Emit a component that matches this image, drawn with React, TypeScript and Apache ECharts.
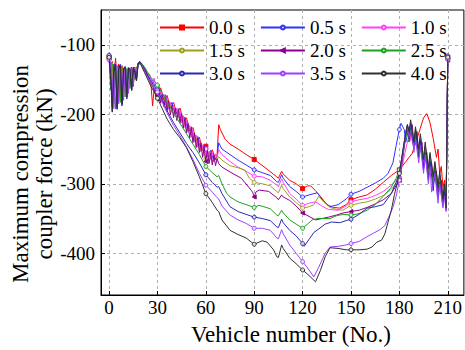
import React, { useEffect, useRef } from 'react';
import * as echarts from 'echarts';

const seriesNames = ['0.0 s', '0.5 s', '1.0 s', '1.5 s', '2.0 s', '2.5 s', '3.0 s', '3.5 s', '4.0 s'];
const seriesColors = ['#ff0000', '#3030ff', '#ff40ff', '#a0a020', '#900090', '#20a020', '#2a2ab0', '#a040ff', '#303030'];
const markerFills = ['#ff0000', '#d8d8ff', '#ffd8ff', '#f0f0c8', '#900090', '#d0f0d0', '#d0d0f0', '#ecd8ff', '#e0e0e0'];
const seriesSymbols = ['rect', 'circle', 'circle', 'circle', 'triangle', 'circle', 'circle', 'circle', 'circle'];
const xTicks = [0, 30, 60, 90, 120, 150, 180, 210];
const yTicks = [-400, -300, -200, -100];

const s00 = [[0,-118],[1,-130],[2,-124],[3,-168],[4,-119],[5,-150],[6,-128],[7,-175],[8,-130],[9,-148],[10,-133],[11,-168],[12,-135],[13,-145],[14,-132],[15,-160],[16,-134],[17,-140],[18,-127],[19,-125],
[21,-132],[23,-140],[25,-150],[26,-158],[27,-188],[28,-162],
[30,-172],[32,-162],[34,-179],[36,-173],[38,-191],[40,-183],[42,-199],[44,-191],[46,-210],[48,-205],[50,-224],[52,-219],[54,-238],[56,-233],[58,-252],[60,-246],[62,-261],[64,-251],[66,-265],[67,-258],
[68,-215],[69,-222],[72,-236],[75,-243],[80,-250],[85,-258],[90,-265],[94,-272],[98,-279],[104,-290],[105,-292],[107,-282],[108,-286],[112,-295],[116,-300],[120,-307],[123,-303],[125,-303],[128,-310],[131,-318],[135,-330],[139,-334],[143,-335],[147,-330],[150,-323],[155,-319],[160,-316],[165,-308],[170,-298],[175,-288],[180,-280],[184,-268],[188,-256],[191,-235],[193,-220],[195,-205],[197,-199],[199,-212],[201,-235],[203,-262],[204,-250],[205,-285],[206,-275],[207,-305],[208,-295],[209,-330],[210,-118]];

const s05 = [[0,-116],[1,-128],[2,-182],[3,-130],[4,-125],[5,-188],[6,-132],[7,-128],[8,-178],[9,-134],[10,-131],[11,-170],[12,-136],[13,-133],[14,-160],[15,-136],[16,-132],[17,-146],[18,-126],[19,-124],
[21,-130],[23,-138],[25,-147],[27,-152],[29,-162],
[30,-165],[31,-160],[33,-180],[35,-172],[37,-192],[39,-183],[41,-201],[43,-192],[45,-211],[47,-204],[49,-225],[51,-218],[53,-239],[55,-232],[57,-253],[59,-245],[60,-250],[61,-264],[63,-252],[65,-268],[67,-260],
[68,-241],[70,-250],[75,-258],[80,-266],[85,-273],[90,-280],[95,-284],[100,-288],[104,-297],[105,-298],[107,-287],[108,-292],[112,-304],[116,-311],[120,-319],[124,-316],[129,-313],[133,-325],[137,-333],[142,-330],[147,-322],[150,-315],[155,-311],[160,-305],[165,-299],[170,-292],[173,-285],[176,-270],[178,-245],[180,-222],[181,-213],[183,-222],[184,-240],[186,-218],[187,-226],[189,-248],[190,-232],[192,-258],[193,-240],[195,-270],[196,-250],[198,-282],[199,-262],[201,-295],[202,-275],[204,-305],[205,-290],[207,-320],[208,-305],[209,-330],[210,-120]];

const s10 = [[0,-120],[1,-142],[2,-130],[3,-178],[4,-126],[5,-135],[6,-180],[7,-130],[8,-140],[9,-172],[10,-132],[11,-140],[12,-165],[13,-134],[14,-138],[15,-155],[16,-133],[17,-136],[18,-128],[19,-126],
[21,-133],[23,-140],[24,-150],[25,-142],[27,-155],[28,-148],[29,-162],
[30,-160],[31,-175],[32,-166],[33,-182],[34,-171],[35,-187],[36,-177],[37,-193],[38,-183],[39,-197],[40,-187],[41,-201],[42,-191],[43,-205],[44,-195],[45,-212],[46,-202],[47,-219],[48,-209],[49,-226],[50,-216],[51,-233],[52,-223],[53,-240],[54,-230],[55,-247],[56,-237],[57,-254],[58,-244],[59,-260],[60,-250],[61,-263],[62,-253],[63,-265],[64,-255],[65,-267],[66,-257],[67,-262],
[68,-251],[70,-258],[75,-268],[80,-276],[85,-282],[90,-289],[95,-290],[100,-295],[104,-302],[105,-304],[107,-293],[108,-298],[112,-314],[116,-322],[120,-331],[124,-328],[128,-326],[132,-332],[136,-337],[142,-338],[147,-332],[150,-326],[155,-323],[160,-321],[165,-317],[170,-311],[175,-302],[180,-290],[182,-272],[184,-250],[186,-230],[187,-238],[188,-222],[189,-240],[190,-228],[192,-252],[193,-232],[195,-262],[196,-245],[198,-275],[199,-258],[201,-290],[202,-270],[204,-300],[205,-285],[207,-315],[208,-300],[209,-325],[210,-117]];

const s15 = [[0,-117],[1,-150],[2,-126],[3,-185],[4,-128],[5,-140],[6,-182],[7,-132],[8,-135],[9,-175],[10,-134],[11,-137],[12,-168],[13,-135],[14,-140],[15,-152],[16,-135],[17,-134],[18,-128],[19,-125],
[21,-133],[23,-142],[25,-152],[27,-160],[29,-166],
[30,-168],[32,-180],[34,-175],[36,-191],[38,-187],[40,-201],[42,-195],[44,-209],[46,-206],[48,-223],[50,-220],[52,-237],[54,-234],[56,-251],[58,-248],[60,-264],[62,-257],[64,-268],[66,-261],[67,-266],
[68,-261],[70,-266],[75,-274],[80,-277],[84,-280],[87,-292],[90,-298],[95,-300],[100,-303],[104,-311],[105,-313],[107,-302],[108,-307],[112,-319],[116,-327],[120,-335],[124,-333],[127,-330],[130,-318],[133,-326],[137,-334],[141,-337],[145,-338],[150,-331],[155,-328],[160,-326],[165,-322],[170,-317],[175,-308],[180,-293],[182,-262],[184,-228],[185,-215],[186,-232],[187,-218],[189,-250],[190,-226],[192,-260],[193,-238],[195,-272],[196,-252],[198,-285],[199,-265],[201,-298],[202,-278],[204,-308],[205,-292],[207,-322],[208,-305],[209,-332],[210,-120]];

const s20 = [[0,-119],[1,-135],[2,-190],[3,-128],[4,-135],[5,-192],[6,-130],[7,-132],[8,-186],[9,-134],[10,-136],[11,-176],[12,-133],[13,-138],[14,-165],[15,-134],[16,-137],[17,-150],[18,-127],[19,-124],
[21,-131],[23,-139],[25,-150],[27,-160],[29,-170],
[30,-178],[31,-165],[32,-184],[33,-171],[34,-189],[35,-176],[36,-195],[37,-181],[38,-201],[39,-187],[40,-205],[41,-191],[42,-209],[43,-195],[44,-213],[45,-199],[46,-220],[47,-206],[48,-227],[49,-213],[50,-234],[51,-220],[52,-241],[53,-227],[54,-248],[55,-234],[56,-255],[57,-241],[58,-262],[59,-247],[60,-268],[61,-252],[62,-271],[63,-256],[64,-273],[65,-258],[66,-274],[67,-264],
[68,-271],[70,-276],[75,-283],[82,-292],[87,-306],[89,-312],[90,-319],[91,-312],[93,-309],[99,-311],[104,-320],[105,-323],[107,-316],[108,-319],[112,-324],[116,-332],[120,-342],[124,-347],[128,-352],[132,-350],[136,-348],[141,-345],[145,-342],[150,-340],[155,-338],[160,-334],[165,-329],[170,-323],[175,-314],[180,-295],[182,-265],[184,-230],[185,-218],[186,-240],[188,-215],[189,-245],[191,-225],[192,-262],[194,-240],[195,-278],[197,-255],[198,-290],[200,-270],[201,-300],[203,-282],[204,-312],[206,-295],[207,-325],[208,-310],[209,-335],[210,-122]];

const s25 = [[0,-118],[1,-165],[2,-128],[3,-130],[4,-192],[5,-130],[6,-134],[7,-183],[8,-132],[9,-136],[10,-175],[11,-134],[12,-138],[13,-163],[14,-135],[15,-137],[16,-150],[17,-132],[18,-130],[19,-126],
[20,-126],[22,-132],[24,-140],[26,-147],[28,-152],[30,-158],[33,-170],[36,-182],[40,-198],[44,-213],[48,-228],[52,-243],[56,-258],[60,-275],[64,-284],[67,-290],[68,-288],[70,-300],[73,-314],[75,-319],[80,-326],[85,-330],[90,-334],[93,-331],[96,-333],[100,-336],[104,-345],[105,-346],[107,-338],[108,-342],[112,-352],[116,-358],[120,-364],[123,-358],[126,-352],[129,-350],[133,-350],[137,-350],[141,-346],[145,-344],[150,-345],[155,-343],[160,-338],[165,-330],[170,-318],[175,-305],[178,-292],[180,-280],[181,-270],[183,-245],[185,-222],[186,-238],[187,-220],[189,-245],[190,-228],[192,-255],[193,-235],[195,-268],[196,-248],[198,-282],[199,-262],[201,-295],[202,-275],[204,-306],[205,-288],[207,-318],[208,-302],[209,-330],[210,-119]];

const s30 = [[0,-115],[1,-138],[2,-196],[3,-132],[4,-130],[5,-193],[6,-134],[7,-130],[8,-188],[9,-135],[10,-133],[11,-178],[12,-136],[13,-135],[14,-166],[15,-138],[16,-136],[17,-152],[18,-128],[19,-125],
[20,-128],[22,-136],[24,-145],[26,-152],[28,-160],[30,-165],[33,-180],[36,-195],[40,-212],[44,-227],[48,-242],[52,-255],[56,-270],[60,-287],[64,-298],[67,-305],[68,-304],[70,-314],[75,-333],[80,-340],[85,-344],[90,-348],[95,-350],[100,-353],[104,-362],[105,-363],[107,-351],[108,-356],[112,-367],[116,-375],[120,-386],[121,-390],[124,-380],[127,-370],[130,-365],[134,-358],[138,-355],[143,-356],[147,-353],[150,-351],[155,-344],[160,-335],[165,-333],[170,-330],[175,-314],[178,-298],[180,-285],[182,-255],[184,-225],[185,-215],[186,-235],[187,-212],[189,-250],[190,-222],[192,-262],[193,-238],[195,-280],[196,-255],[198,-295],[199,-268],[201,-310],[202,-282],[204,-322],[205,-298],[207,-332],[208,-312],[209,-338],[210,-116]];

const s35 = [[0,-122],[1,-128],[2,-150],[3,-192],[4,-130],[5,-140],[6,-185],[7,-134],[8,-138],[9,-180],[10,-135],[11,-140],[12,-170],[13,-136],[14,-139],[15,-158],[16,-135],[17,-138],[18,-130],[19,-127],
[20,-128],[22,-138],[24,-147],[26,-155],[28,-162],[30,-168],[33,-183],[36,-198],[40,-216],[44,-231],[48,-247],[52,-265],[56,-285],[60,-302],[64,-312],[67,-320],[68,-322],[70,-332],[75,-345],[80,-352],[85,-357],[90,-364],[95,-364],[100,-367],[104,-378],[105,-379],[107,-366],[108,-372],[112,-388],[116,-400],[120,-412],[124,-424],[127,-434],[130,-420],[134,-400],[137,-391],[142,-390],[147,-388],[150,-386],[155,-383],[160,-376],[164,-371],[168,-366],[171,-360],[174,-345],[176,-334],[178,-318],[180,-295],[182,-260],[184,-225],[185,-218],[186,-232],[188,-222],[189,-255],[190,-235],[192,-270],[193,-245],[195,-285],[196,-258],[198,-300],[199,-275],[200,-312],[202,-285],[204,-328],[205,-300],[207,-335],[208,-318],[209,-340],[210,-121]];

const s40 = [[0,-118],[1,-150],[2,-197],[3,-140],[4,-128],[5,-190],[6,-135],[7,-130],[8,-185],[9,-135],[10,-132],[11,-175],[12,-133],[13,-136],[14,-165],[15,-132],[16,-140],[17,-152],[18,-128],[19,-126],
[20,-130],[22,-140],[24,-150],[26,-160],[28,-168],[30,-177],[33,-192],[36,-207],[40,-222],[44,-234],[48,-248],[52,-268],[56,-290],[60,-314],[64,-327],[67,-338],[68,-340],[70,-352],[75,-367],[80,-373],[85,-378],[90,-387],[95,-382],[98,-384],[102,-395],[104,-405],[105,-406],[107,-388],[108,-393],[112,-407],[116,-415],[120,-424],[124,-432],[128,-441],[131,-425],[134,-405],[137,-392],[142,-393],[147,-395],[150,-395],[155,-395],[160,-394],[163,-391],[166,-384],[169,-381],[171,-372],[173,-355],[175,-338],[177,-315],[179,-296],[180,-285],[181,-270],[183,-240],[185,-215],[186,-225],[187,-208],[189,-240],[190,-218],[192,-250],[193,-228],[195,-265],[196,-240],[198,-278],[199,-255],[201,-290],[202,-268],[204,-305],[205,-282],[207,-322],[208,-300],[209,-335],[210,-118]];

const seriesData = [s00, s05, s10, s15, s20, s25, s30, s35, s40];

const FONT = "'Liberation Serif', 'Times New Roman', Times, serif";

export default function App() {
  const ref = useRef<HTMLDivElement>(null);
  useEffect(() => {
    const chart = echarts.init(ref.current as HTMLDivElement, null, { renderer: 'svg' });
    const legendTops = [18, 41, 64];
    const option: any = {
      animation: false,
      backgroundColor: '#ffffff',
      textStyle: { fontFamily: FONT },
      grid: { left: 101, top: 10, width: 365, height: 285, show: true, borderColor: '#000', borderWidth: 1, containLabel: false },
      legend: legendTops.map((t, r) => ({
        data: seriesNames.slice(r * 3, r * 3 + 3),
        left: 159,
        top: t,
        orient: 'horizontal',
        itemWidth: 44,
        itemHeight: 5,
        itemGap: 15,
        padding: 0,
        selectedMode: false,
        textStyle: { fontFamily: FONT, fontSize: 19, color: '#000' },
      })),
      xAxis: {
        type: 'value',
        min: -5,
        max: 220,
        axisLine: { show: true, onZero: false, lineStyle: { color: '#000', width: 1 } },
        axisTick: { show: true, inside: true, length: 4, customValues: xTicks, lineStyle: { color: '#000' } },
        axisLabel: { customValues: xTicks, fontFamily: FONT, fontSize: 19, color: '#000', margin: 3 },
        splitLine: { show: true, lineStyle: { color: '#b0b0b0', type: [3, 3], width: 1 } },
      },
      yAxis: {
        type: 'value',
        min: -460,
        max: -50,
        axisLine: { show: true, onZero: false, lineStyle: { color: '#000', width: 1 } },
        axisTick: { show: true, inside: true, length: 4, customValues: yTicks, lineStyle: { color: '#000' } },
        axisLabel: { customValues: yTicks, fontFamily: FONT, fontSize: 19, color: '#000', margin: 6 },
        splitLine: { show: true, lineStyle: { color: '#b0b0b0', type: [3, 3], width: 1 } },
      },
      graphic: [
        {
          type: 'text',
          x: 32,
          y: 174,
          rotation: Math.PI / 2,
          style: {
            text: 'Maximum compression\ncoupler force (kN)',
            fontFamily: FONT,
            fontSize: 23,
            fill: '#000',
            align: 'center',
            verticalAlign: 'middle',
            lineHeight: 24,
          },
        },
        {
          type: 'text',
          x: 291,
          y: 334,
          style: {
            text: 'Vehicle number (No.)',
            fontFamily: FONT,
            fontSize: 23,
            fill: '#000',
            align: 'center',
            verticalAlign: 'middle',
          },
        },
      ],
      series: seriesData.map((d, i) => ({
        name: seriesNames[i],
        type: 'line',
        data: d,
        color: seriesColors[i],
        symbol: seriesSymbols[i],
        symbolRotate: i === 4 ? 90 : 0,
        symbolSize: (val: number[]) => (val[0] % 30 === 0 ? 4 : 0),
        showSymbol: true,
        showAllSymbol: true,
        lineStyle: { width: 1, color: seriesColors[i] },
        itemStyle: { color: markerFills[i], borderColor: seriesColors[i], borderWidth: 1 },
        emphasis: { disabled: true },
        z: 2 + i,
      })),
    };
    chart.setOption(option);
    return () => chart.dispose();
  }, []);
  return <div ref={ref} style={{ position: 'fixed', left: 0, top: 0, width: 465, height: 350 }} />;
}
